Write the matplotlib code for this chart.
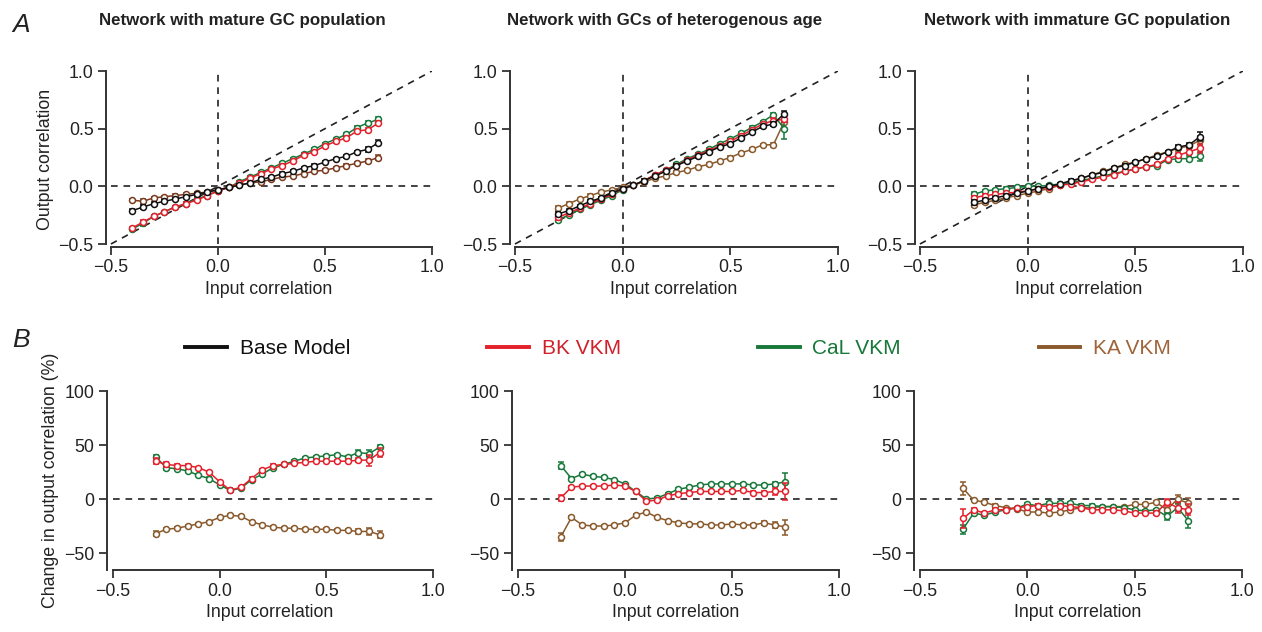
import matplotlib
matplotlib.use("Agg")
import matplotlib.pyplot as plt
from matplotlib.lines import Line2D

plt.rcParams['font.family'] = ['Liberation Sans', 'DejaVu Sans']

# colours of the four models
c_base = '#111111'
c_bk = '#e3202b'
c_cal = '#17783a'
c_ka = '#8a5a2c'
c_ka_dark = '#7a3a1e'   # KA looks darker in the mature panel

# ---- panel A : output correlation ----
x_mature = [-0.4, -0.35, -0.3, -0.25, -0.2, -0.15, -0.1, -0.05, 0.0, 0.05, 0.1, 0.15,
            0.2, 0.25, 0.3, 0.35, 0.4, 0.45, 0.5, 0.55, 0.6, 0.65, 0.7, 0.75]
mat_base = [-0.21, -0.18, -0.15, -0.13, -0.11, -0.09, -0.07, -0.05, -0.03, -0.01, 0.01, 0.03,
            0.06, 0.08, 0.11, 0.13, 0.16, 0.18, 0.21, 0.24, 0.26, 0.30, 0.32, 0.38]
mat_bk = [-0.36, -0.31, -0.26, -0.22, -0.18, -0.15, -0.12, -0.08, -0.04, -0.01, 0.03, 0.07,
          0.11, 0.15, 0.18, 0.22, 0.27, 0.30, 0.35, 0.39, 0.42, 0.48, 0.49, 0.55]
mat_cal = [-0.37, -0.32, -0.26, -0.22, -0.18, -0.15, -0.11, -0.08, -0.04, -0.01, 0.04, 0.08,
           0.12, 0.16, 0.20, 0.24, 0.28, 0.32, 0.37, 0.41, 0.45, 0.51, 0.55, 0.58]
mat_ka = [-0.12, -0.13, -0.10, -0.09, -0.08, -0.07, -0.06, -0.05, -0.03, -0.01, 0.01, 0.03,
          0.04, 0.06, 0.08, 0.09, 0.11, 0.13, 0.14, 0.16, 0.18, 0.20, 0.22, 0.25]
mat_err = [0.01, 0.02, 0.01, 0.01, 0.01, 0.01, 0.01, 0.01, 0.01, 0.01, 0.01, 0.01,
           0.01, 0.01, 0.01, 0.01, 0.01, 0.01, 0.01, 0.01, 0.01, 0.01, 0.02, 0.02]

x_het = [-0.3, -0.25, -0.2, -0.15, -0.1, -0.05, 0.0, 0.05, 0.1, 0.15, 0.2,
         0.25, 0.3, 0.35, 0.4, 0.45, 0.5, 0.55, 0.6, 0.65, 0.7, 0.75]
het_base = [-0.24, -0.21, -0.17, -0.13, -0.10, -0.06, -0.02, 0.01, 0.05, 0.09, 0.13,
            0.18, 0.22, 0.26, 0.30, 0.34, 0.37, 0.42, 0.47, 0.52, 0.54, 0.63]
het_bk = [-0.27, -0.23, -0.19, -0.15, -0.11, -0.07, -0.02, 0.01, 0.05, 0.10, 0.14,
          0.18, 0.23, 0.27, 0.31, 0.35, 0.39, 0.44, 0.49, 0.54, 0.57, 0.58]
het_cal = [-0.29, -0.25, -0.20, -0.16, -0.12, -0.08, -0.03, 0.01, 0.05, 0.10, 0.14,
           0.19, 0.24, 0.28, 0.32, 0.37, 0.41, 0.46, 0.51, 0.56, 0.62, 0.50]
het_ka = [-0.19, -0.15, -0.11, -0.08, -0.05, -0.03, -0.01, 0.01, 0.04, 0.07, 0.09,
          0.12, 0.14, 0.17, 0.19, 0.22, 0.25, 0.29, 0.32, 0.36, 0.36, 0.56]
het_err = [0.02, 0.01, 0.01, 0.01, 0.01, 0.01, 0.01, 0.01, 0.01, 0.01, 0.01,
           0.01, 0.01, 0.01, 0.01, 0.01, 0.01, 0.01, 0.01, 0.01, 0.02, 0.02]
het_cal_err = [0.02, 0.01, 0.01, 0.01, 0.01, 0.01, 0.01, 0.01, 0.01, 0.01, 0.01,
               0.01, 0.01, 0.01, 0.01, 0.01, 0.01, 0.01, 0.01, 0.01, 0.02, 0.09]

x_imm = [-0.25, -0.2, -0.15, -0.1, -0.05, 0.0, 0.05, 0.1, 0.15, 0.2, 0.25,
         0.3, 0.35, 0.4, 0.45, 0.5, 0.55, 0.6, 0.65, 0.7, 0.75, 0.8]
imm_base = [-0.14, -0.12, -0.10, -0.08, -0.06, -0.04, -0.02, 0.00, 0.02, 0.05, 0.07,
            0.10, 0.12, 0.16, 0.18, 0.21, 0.24, 0.26, 0.30, 0.34, 0.36, 0.43]
imm_bk = [-0.10, -0.08, -0.07, -0.06, -0.05, -0.04, -0.02, -0.01, 0.01, 0.02, 0.04,
          0.06, 0.08, 0.10, 0.13, 0.15, 0.17, 0.19, 0.24, 0.27, 0.30, 0.33]
imm_cal = [-0.07, -0.04, -0.03, -0.02, -0.01, 0.00, 0.00, 0.01, 0.02, 0.03, 0.05,
           0.07, 0.09, 0.11, 0.13, 0.15, 0.17, 0.18, 0.23, 0.24, 0.24, 0.26]
imm_ka = [-0.16, -0.14, -0.12, -0.10, -0.08, -0.06, -0.04, -0.02, 0.01, 0.04, 0.07,
          0.10, 0.13, 0.16, 0.19, 0.21, 0.24, 0.27, 0.30, 0.33, 0.35, 0.40]
imm_err = [0.02, 0.01, 0.01, 0.01, 0.01, 0.01, 0.01, 0.01, 0.01, 0.01, 0.01,
           0.01, 0.01, 0.01, 0.01, 0.01, 0.01, 0.01, 0.01, 0.02, 0.02, 0.04]

# ---- panel B : change in output correlation (%) ----
x_b = [-0.3, -0.25, -0.2, -0.15, -0.1, -0.05, 0.0, 0.05, 0.1, 0.15, 0.2,
       0.25, 0.3, 0.35, 0.4, 0.45, 0.5, 0.55, 0.6, 0.65, 0.7, 0.75]

b1_bk = [35, 32, 31, 31, 29, 25, 16, 8, 11, 19, 27, 31, 32, 33, 34, 35, 35, 35, 35, 36, 36, 43]
b1_cal = [39, 29, 28, 26, 22, 19, 13, 8, 10, 18, 23, 29, 32, 35, 38, 39, 40, 41, 39, 43, 42, 48]
b1_ka = [-32, -28, -27, -25, -23, -21, -17, -15, -16, -21, -24, -26, -27, -27, -28, -28,
         -28, -29, -29, -30, -30, -33]
b1_bk_err = [3, 2, 1, 1, 1, 1, 1, 1, 1, 1, 1, 1, 1, 1, 1, 1, 1, 1, 1, 2, 5, 4]
b1_cal_err = [2, 2, 1, 1, 1, 1, 1, 1, 1, 1, 1, 1, 1, 1, 1, 1, 1, 1, 1, 2, 3, 2]
b1_ka_err = [2, 1, 1, 1, 1, 1, 1, 1, 1, 1, 1, 1, 1, 1, 1, 1, 1, 1, 1, 2, 3, 3]

b2_bk = [1, 11, 12, 12, 12, 13, 12, 7, -2, -1, 3, 5, 6, 7, 7, 7, 7, 8, 6, 6, 7, 7]
b2_cal = [31, 19, 23, 21, 20, 18, 14, 7, 0, 1, 5, 9, 11, 13, 14, 14, 14, 14, 13, 13, 14, 16]
b2_ka = [-35, -17, -24, -25, -25, -24, -22, -15, -12, -17, -20, -22, -23, -23, -24, -24,
         -23, -24, -24, -22, -24, -26]
b2_bk_err = [3, 1, 1, 1, 1, 1, 1, 1, 1, 1, 1, 1, 1, 1, 1, 1, 1, 1, 1, 1, 3, 8]
b2_cal_err = [3, 1, 1, 1, 1, 1, 1, 1, 1, 1, 1, 1, 1, 1, 1, 1, 1, 1, 1, 1, 2, 8]
b2_ka_err = [4, 1, 1, 1, 1, 1, 1, 1, 1, 1, 1, 1, 1, 1, 1, 1, 1, 1, 1, 2, 3, 7]

b3_bk = [-18, -10, -13, -10, -10, -8, -7, -6, -7, -6, -7, -8, -10, -10, -10, -11,
         -13, -13, -13, -3, -8, -10]
b3_cal = [-28, -13, -15, -12, -10, -8, -5, -6, -4, -4, -4, -6, -6, -7, -7, -8,
          -10, -11, -10, -16, -8, -20]
b3_ka = [10, -1, -3, -6, -8, -9, -12, -12, -13, -12, -10, -8, -8, -7, -7, -7,
         -5, -5, -3, -10, 0, -4]
b3_bk_err = [9, 2, 1, 1, 1, 1, 1, 1, 1, 1, 1, 1, 1, 1, 1, 1, 1, 1, 2, 3, 5, 5]
b3_cal_err = [4, 2, 1, 1, 1, 1, 1, 1, 1, 1, 1, 1, 1, 1, 1, 1, 1, 1, 1, 3, 3, 7]
b3_ka_err = [6, 1, 1, 1, 1, 1, 1, 1, 1, 1, 1, 1, 1, 1, 1, 1, 1, 1, 1, 2, 4, 5]

titles = ['Network with mature GC population',
          'Network with GCs of heterogenous age',
          'Network with immature GC population']

W, H = 1262, 632
fig = plt.figure(figsize=(W / 100, H / 100), dpi=100)

FS = 12.8


def px_axes(left, right, top, bottom):
    return fig.add_axes([left / W, 1 - bottom / H, (right - left) / W, (bottom - top) / H])


def style(ax):
    for s in ['top', 'right']:
        ax.spines[s].set_visible(False)
    for s in ['left', 'bottom']:
        ax.spines[s].set_linewidth(1.4)
        ax.spines[s].set_color('#333333')
    ax.tick_params(direction='out', length=6, width=1.3, color='#333333',
                   labelsize=FS, labelcolor='#222222', pad=3)
    ax.set_xticks([-0.5, 0.0, 0.5, 1.0])
    ax.set_xticklabels(['\u22120.5', '0.0', '0.5', '1.0'])
    ax.spines['bottom'].set_bounds(-0.5, 1.0)
    ax.set_xlabel('Input correlation', fontsize=FS, color='#222222', labelpad=3)


def series(ax, x, y, err, col, z):
    ax.errorbar(x, y, yerr=err, color=col, lw=1.1, marker='o', ms=4.3, mfc='white',
                mec=col, mew=1.1, capsize=2.5, elinewidth=1.1, capthick=1.1, zorder=z)


dash = (0, (4, 3.5))

# top row
a_boxes = [(106, 432), (510, 838), (915, 1243)]
a_data = [
    (x_mature, mat_base, mat_bk, mat_cal, mat_ka, mat_err, mat_err),
    (x_het, het_base, het_bk, het_cal, het_ka, het_err, het_cal_err),
    (x_imm, imm_base, imm_bk, imm_cal, imm_ka, imm_err, imm_err),
]
title_x = [242, 665, 1077]
for i, (l, r) in enumerate(a_boxes):
    ax = px_axes(l, r, 71, 247)
    ax.set_xlim(-0.523, 1.0)
    ax.set_ylim(-0.526, 1.0)
    style(ax)
    ax.spines['left'].set_bounds(-0.5, 1.0)
    ax.set_yticks([-0.5, 0.0, 0.5, 1.0])
    ax.set_yticklabels(['\u22120.5', '0.0', '0.5', '1.0'])
    ax.plot([-0.5, 1.0], [-0.5, 1.0], color='#222222', lw=1.2, linestyle=dash, zorder=1)
    ax.plot([-0.5, 1.0], [0, 0], color='#222222', lw=1.2, linestyle=dash, zorder=1)
    ax.plot([0, 0], [-0.5, 1.0], color='#222222', lw=1.2, linestyle=dash, zorder=1)
    x, yb, ybk, ycal, yka, e, ecal = a_data[i]
    series(ax, x, yka, e, c_ka_dark if i == 0 else c_ka, 3)
    series(ax, x, ycal, ecal, c_cal, 4)
    series(ax, x, ybk, e, c_bk, 5)
    series(ax, x, yb, e, c_base, 6)
    if i == 0:
        ax.set_ylabel('Output correlation', fontsize=FS, color='#222222', labelpad=3)
    fig.text(title_x[i] / W, 1 - 21 / H, titles[i], ha='center', va='center',
             fontsize=12.2, fontweight='bold', color='#222222')

# bottom row
b_boxes = [(107, 433), (512, 839), (914, 1242)]
b_data = [
    (b1_bk, b1_cal, b1_ka, b1_bk_err, b1_cal_err, b1_ka_err),
    (b2_bk, b2_cal, b2_ka, b2_bk_err, b2_cal_err, b2_ka_err),
    (b3_bk, b3_cal, b3_ka, b3_bk_err, b3_cal_err, b3_ka_err),
]
for i, (l, r) in enumerate(b_boxes):
    ax = px_axes(l, r, 391, 570)
    ax.set_xlim(-0.528, 1.0)
    ax.set_ylim(-65.7, 100)
    style(ax)
    ax.spines['left'].set_bounds(-65.7, 100)
    ax.set_yticks([-50, 0, 50, 100])
    ax.set_yticklabels(['\u221250', '0', '50', '100'])
    ax.plot([-0.5, 1.0], [0, 0], color='#222222', lw=1.2, linestyle=dash, zorder=1)
    ybk, ycal, yka, ebk, ecal, eka = b_data[i]
    series(ax, x_b, yka, eka, c_ka, 3)
    series(ax, x_b, ycal, ecal, c_cal, 4)
    series(ax, x_b, ybk, ebk, c_bk, 5)
    if i == 0:
        ax.set_ylabel('Change in output correlation (%)', fontsize=FS,
                      color='#222222', labelpad=4)

# panel letters
fig.text(12 / W, 1 - 25 / H, 'A', fontsize=19, style='italic', va='center', color='#222222')
fig.text(12 / W, 1 - 340 / H, 'B', fontsize=19, style='italic', va='center', color='#222222')

# legend
handles = [Line2D([], [], color=c, lw=2.8) for c in [c_base, c_bk, c_cal, c_ka]]
labels = ['Base Model', 'BK VKM', 'CaL VKM', 'KA VKM']
fig.legend(handles, labels, loc='center', bbox_to_anchor=(678 / W, 1 - 349 / H), ncol=4,
           frameon=False, fontsize=15, handlelength=2.0, handletextpad=0.6,
           columnspacing=6.6, labelcolor=['#111111', '#d0202a', '#17783a', '#a0643a'])

fig.savefig('out.png', dpi=100)
